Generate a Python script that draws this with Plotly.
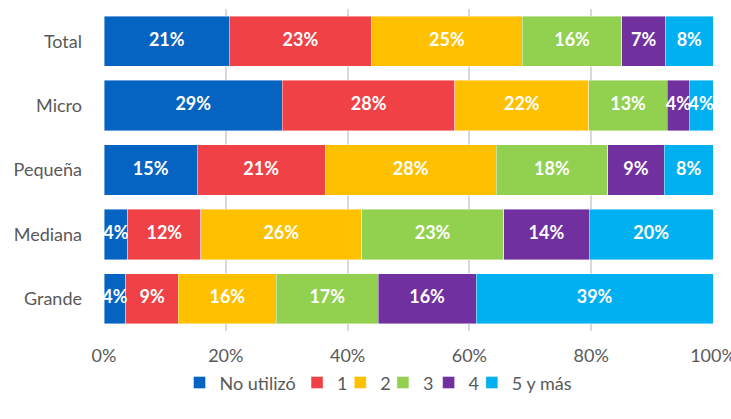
import plotly.graph_objects as go

categories = ["Total", "Micro", "Pequeña", "Mediana", "Grande"]
series_names = ["No utilizó", "1", "2", "3", "4", "5 y más"]
no_utilizo = [20.6, 29.3, 15.3, 3.9, 3.6]
uno = [23.3, 28.3, 21.0, 12.0, 8.6]
dos = [24.8, 22.0, 28.1, 26.4, 16.1]
tres = [16.3, 12.9, 18.3, 23.3, 16.7]
cuatro = [7.2, 3.6, 9.3, 14.1, 16.1]
cinco_mas = [7.8, 3.9, 8.0, 20.3, 38.9]
tick_vals = [0, 20, 40, 60, 80, 100]
tick_text = ["0%", "20%", "40%", "60%", "80%", "100%"]

colors = ["#0563C1", "#EF4146", "#FFC000", "#92D050", "#7030A0", "#00B0F0"]
values = [no_utilizo, uno, dos, tres, cuatro, cinco_mas]
legend_x = [0.124, 0.317, 0.388, 0.458, 0.533, 0.604]

fig = go.Figure()
cum = [0.0] * len(categories)
layout_legends = {}
for i, (name, vals, col) in enumerate(zip(series_names, values, colors)):
    lg = "legend" if i == 0 else f"legend{i + 1}"
    fig.add_trace(go.Bar(
        y=categories, x=vals, name=name, orientation="h", legend=lg,
        marker=dict(color=col, line=dict(color="rgba(255,255,255,0.6)", width=0.7)),
        textposition="none",
        hoverinfo="x+y+name",
    ))
    layout_legends[lg] = dict(orientation="h", x=legend_x[i], xanchor="left",
                              y=-0.161, yanchor="middle", itemwidth=30,
                              bgcolor="rgba(0,0,0,0)",
                              font=dict(size=18, color="#595959", family="Lato"))
    mids = [c + v / 2 for c, v in zip(cum, vals)]
    fig.add_trace(go.Scatter(
        x=mids, y=categories, mode="text", showlegend=False,
        text=[f"{round(v):d}%" for v in vals],
        textposition="middle center",
        textfont=dict(color="white", size=18, family="Lato", weight="bold"),
        hoverinfo="skip",
    ))
    cum = [c + v for c, v in zip(cum, vals)]

fig.update_layout(
    barmode="stack", bargap=0.22,
    width=731, height=419,
    margin=dict(l=104, r=18, t=9, b=88),
    paper_bgcolor="white", plot_bgcolor="white",
    font=dict(family="Lato", size=18, color="#595959"),
    xaxis=dict(range=[0, 100], tickvals=tick_vals, ticktext=tick_text,
               showgrid=True, gridcolor="#D9D9D9", gridwidth=1.5,
               zeroline=False, ticks="", automargin=False,
               ticklabeloverflow="allow", ticklabelstandoff=12,
               tickfont=dict(size=18, color="#595959")),
    yaxis=dict(autorange="reversed", ticks="", ticklabelstandoff=21,
               automargin=False, tickfont=dict(size=18, color="#595959")),
    **layout_legends,
)
fig.write_html("out.html", post_script="document.body.style.margin='0';",
               config={"displayModeBar": False})
